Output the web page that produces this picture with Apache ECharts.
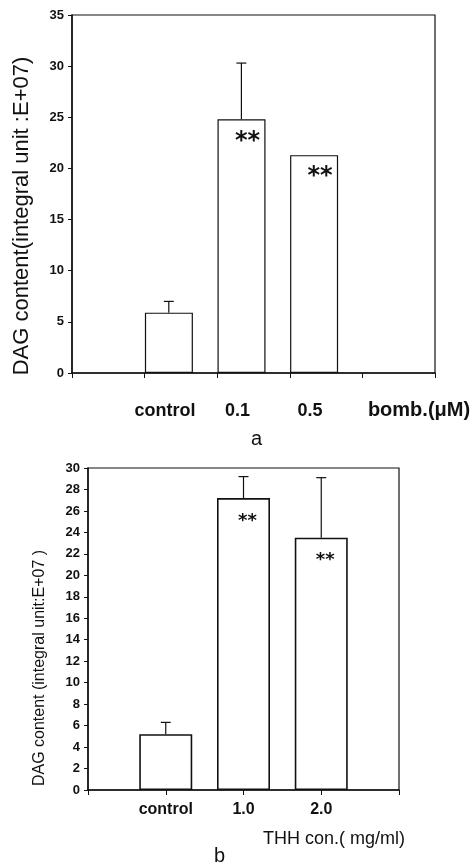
<!DOCTYPE html>
<html>
<head>
<meta charset="utf-8">
<script src="https://cdn.jsdelivr.net/npm/echarts@6/dist/echarts.min.js"></script>
<style>
  html,body{margin:0;padding:0;background:#fff;}
  #chart{width:474px;height:865px;}
</style>
</head>
<body>
<div id="chart"></div>
<script>
// panel a: bombesin
const catsA = ['', 'control', '0.1', '0.5', ''];
const valsA = [null, 5.9, 24.8, 21.3, null];
const sdA   = [null, 1.1, 5.5, null, null];
const sigA  = ['', '', '**', '**', ''];
const ticksA = [0, 5, 10, 15, 20, 25, 30, 35];

// panel b: THH
const catsB = ['', 'control', '1.0', '2.0', ''];
const valsB = [null, 5.2, 27.2, 23.5, null];
const sdB   = [null, 1.1, 2.0, 5.6, null];
const sigB  = ['', '', '**', '**', ''];
const ticksB = [0, 2, 4, 6, 8, 10, 12, 14, 16, 18, 20, 22, 24, 26, 28, 30];

const FONT = '"Liberation Sans", Arial, sans-serif';
const BLACK = '#111';

const chart = echarts.init(document.getElementById('chart'));

// error bar (upper whisker + cap), shift = fraction of category width
function errRender(vals, sds, shift){
  return function(params, api){
    const i = api.value(0);
    const v = vals[i], sd = sds[i];
    if (v == null || sd == null) return null;
    const w = api.size([1, 0])[0];
    const p0 = api.coord([i, v]);
    const p1 = api.coord([i, v + sd]);
    const x = p0[0] + w * shift;
    const style = {stroke: BLACK, lineWidth: 1.2};
    return {type: 'group', children: [
      {type: 'line', shape: {x1: x, y1: p0[1], x2: x, y2: p1[1]}, style},
      {type: 'line', shape: {x1: x - 5, y1: p1[1], x2: x + 5, y2: p1[1]}, style}
    ]};
  };
}

function sigLabel(sig, size, dx, dist){
  return {
    show: true, position: 'insideTop', distance: dist, offset: [dx, 0],
    formatter: p => sig[p.dataIndex],
    fontFamily: '"DejaVu Sans", sans-serif', fontWeight: 'bold',
    fontSize: size, color: BLACK
  };
}

chart.setOption({
  animation: false,
  grid: [
    {left: 72, top: 15, width: 363, height: 358, show: true, borderColor: BLACK, borderWidth: 1.2},
    {left: 88, top: 468, width: 311, height: 322, show: true, borderColor: BLACK, borderWidth: 1.2}
  ],
  graphic: [
    {type: 'text', left: 251, top: 429, style: {text: 'a', font: '20px ' + FONT, fill: BLACK}},
    {type: 'text', left: 214, top: 846, style: {text: 'b', font: '20px ' + FONT, fill: BLACK}}
  ],
  xAxis: [
    {
      gridIndex: 0, type: 'category', data: catsA, boundaryGap: true,
      axisLine: {lineStyle: {color: BLACK, width: 1.5}},
      axisTick: {show: true, length: 5, lineStyle: {color: BLACK}},
      axisLabel: {color: BLACK, fontFamily: FONT, fontWeight: 'bold', fontSize: 18,
                  margin: 29, padding: [0, 32, 0, 0], interval: 0},
      name: 'bomb.(μM)', nameLocation: 'end', nameGap: -16,
      nameTextStyle: {color: BLACK, fontFamily: FONT, fontWeight: 'bold', fontSize: 20,
                      align: 'center', verticalAlign: 'top', padding: [27, 0, 0, 0]}
    },
    {
      gridIndex: 1, type: 'category', data: catsB, boundaryGap: false,
      axisLine: {lineStyle: {color: BLACK, width: 1.5}},
      axisTick: {show: true, length: 5, lineStyle: {color: BLACK}},
      axisLabel: {color: BLACK, fontFamily: FONT, fontWeight: 'bold', fontSize: 16,
                  margin: 12, interval: 0},
      name: 'THH con.( mg/ml)', nameLocation: 'end', nameGap: -65,
      nameTextStyle: {color: BLACK, fontFamily: FONT, fontSize: 18,
                      align: 'center', verticalAlign: 'top', padding: [40, 0, 0, 0]}
    }
  ],
  yAxis: [
    {
      gridIndex: 0, type: 'value', min: 0, max: 35, interval: 5,
      splitLine: {show: false},
      axisLine: {show: true, lineStyle: {color: BLACK, width: 1.5}},
      axisTick: {show: true, length: 4, lineStyle: {color: BLACK}},
      axisLabel: {color: BLACK, fontFamily: FONT, fontWeight: 'bold', fontSize: 13, margin: 8,
                  customValues: ticksA},
      name: 'DAG content(integral unit :E+07)', nameLocation: 'middle', nameGap: 39,
      nameTextStyle: {color: BLACK, fontFamily: FONT, fontSize: 22, padding: [0, 44, 0, 0]}
    },
    {
      gridIndex: 1, type: 'value', min: 0, max: 30, interval: 2,
      splitLine: {show: false},
      axisLine: {show: true, lineStyle: {color: BLACK, width: 1.5}},
      axisTick: {show: true, length: 4, lineStyle: {color: BLACK}},
      axisLabel: {color: BLACK, fontFamily: FONT, fontWeight: 'bold', fontSize: 13, margin: 8,
                  customValues: ticksB},
      name: 'DAG content (integral unit:E+07 )', nameLocation: 'middle', nameGap: 40,
      nameTextStyle: {color: BLACK, fontFamily: FONT, fontSize: 16, padding: [0, 78, 0, 0]}
    }
  ],
  series: [
    {
      type: 'bar', xAxisIndex: 0, yAxisIndex: 0, data: valsA,
      barWidth: 48, barGap: '0%',
      itemStyle: {color: '#fff', borderColor: BLACK, borderWidth: 1.2},
      label: sigLabel(sigA, 24, 6, 10)
    },
    { // spacer so bars sit at the left of each category
      type: 'bar', xAxisIndex: 0, yAxisIndex: 0, data: catsA.map(() => null),
      barWidth: 24, barGap: '0%', silent: true
    },
    {
      type: 'custom', xAxisIndex: 0, yAxisIndex: 0, z: 1,
      data: catsA.map((c, i) => [i, valsA[i]]),
      renderItem: errRender(valsA, sdA, -1 / 6)
    },
    {
      type: 'bar', xAxisIndex: 1, yAxisIndex: 1, data: valsB,
      barWidth: 53,
      itemStyle: {color: '#fff', borderColor: BLACK, borderWidth: 1.6},
      label: sigLabel(sigB, 18, 4, 14)
    },
    {
      type: 'custom', xAxisIndex: 1, yAxisIndex: 1, z: 1,
      data: catsB.map((c, i) => [i, valsB[i]]),
      renderItem: errRender(valsB, sdB, 0)
    }
  ]
});
</script>
</body>
</html>
